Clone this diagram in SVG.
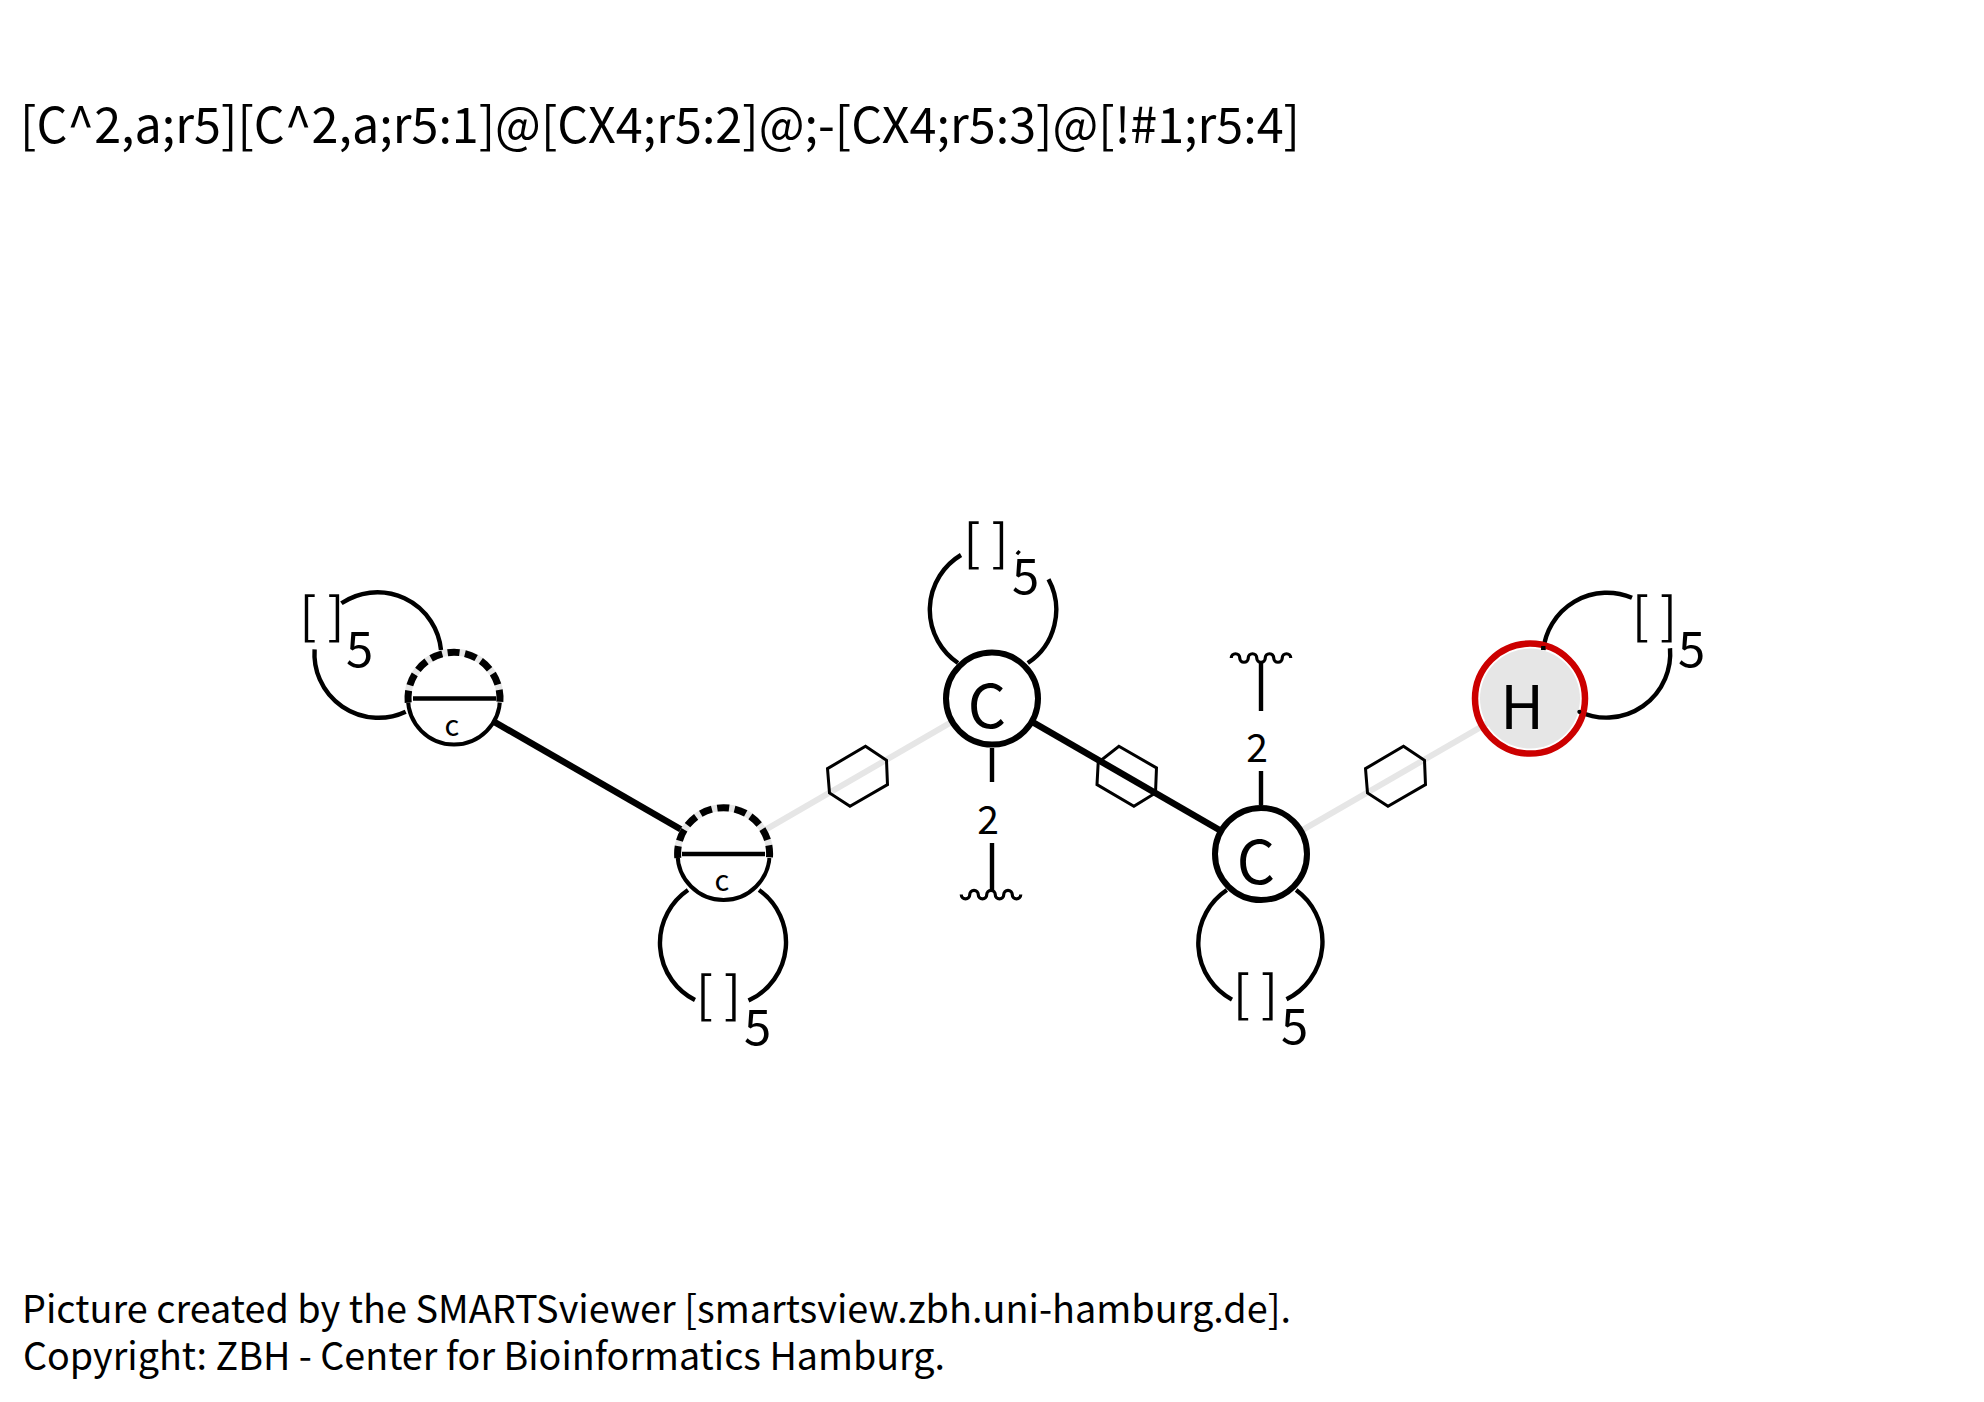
<svg xmlns="http://www.w3.org/2000/svg" width="1984" height="1402" viewBox="0 0 1984 1402">
<style>
text{font-family:"Noto Sans CJK SC","Noto Sans",sans-serif;fill:#000}
.title{font-size:49.5px}
.foot{font-size:38.5px}
.br{font-size:50px}
.sub{font-size:49px}
.atom{font-size:60px;text-anchor:middle}
.small{font-size:29px;text-anchor:middle}
.num{font-size:39px;text-anchor:middle}
.thick{fill:none;stroke:#000;stroke-width:6.5}
.ghost{fill:none;stroke:#e6e6e6;stroke-width:6}
.thin{fill:none;stroke:#000;stroke-width:4.4}
.wave{fill:none;stroke:#000;stroke-width:3.2}
.hex{fill:none;stroke:#000;stroke-width:3}
.ring{fill:#fff;stroke:#000;stroke-width:6}
.half{fill:#fff;stroke:#000;stroke-width:4}
.under{fill:none;stroke:#e6e6e6;stroke-width:7}
.dash{fill:none;stroke:#000;stroke-width:7;stroke-dasharray:12 5.5}
.mid{stroke:#000;stroke-width:4.5}
</style>
<defs>
<polygon id="hexA" class="hex" points="8,-30 29,-16 30,8.3 -7.5,30 -28,16.6 -30,-7.7"/>
<polygon id="hexB" class="hex" points="-7.6,-30 30,-8.4 29,16.6 7.4,30 -29.5,8.3 -28.3,-13.8"/>
<path id="wave" class="wave" d="M-29.75 0A4.25 4.25 0 0 0 -21.25 0A4.25 4.25 0 0 1 -12.75 0A4.25 4.25 0 0 0 -4.25 0A4.25 4.25 0 0 1 4.25 0A4.25 4.25 0 0 0 12.75 0A4.25 4.25 0 0 1 21.25 0A4.25 4.25 0 0 0 29.75 0"/>
<path id="half-arc" d="M-45.8 4A46 46 0 1 1 45.8 4"/>
</defs>
<rect width="1984" height="1402" fill="#fff"/>
<g id="connectors">
<line class="ghost" x1="723.6" y1="854" x2="992" y2="698.6"/>
<line class="ghost" x1="1261" y1="854" x2="1530" y2="698.6"/>
<line class="thick" x1="454" y1="698.6" x2="723.6" y2="854"/>
<line class="thick" x1="992" y1="698.6" x2="1261" y2="854"/>
<use href="#hexA" x="857.5" y="776.3"/>
<use href="#hexB" x="1126.5" y="776.3"/>
<use href="#hexA" x="1395.5" y="776.3"/>
<path class="thin" d="M441 650A64 64 0 0 0 341.4 603.3M314.6 649.3A64 64 0 0 0 405.7 711.7"/>
<path class="thin" d="M688 890A64 64 0 0 0 695 1000M759 890A64 64 0 0 1 748.5 1000.5"/>
<path class="thin" d="M958 663A64 64 0 0 1 961 555M1027.8 663A64 64 0 0 0 1048.5 579.3M1017 551.6L1019.5 553.6"/>
<path class="thin" d="M1226.8 890A64 64 0 0 0 1232 999.6M1296.1 890A64 64 0 0 1 1286.5 999.3"/>
<path class="thin" d="M1543.3 650A64 64 0 0 1 1632 597.8M1670 648.3A64 64 0 0 1 1579.3 711.7"/>
<path class="thin" d="M992 748V782M992 843V890.5M1261 771V805M1261 662.2V711"/>
<use href="#wave" transform="translate(991 894.6)"/>
<use href="#wave" transform="translate(1261 658) scale(1 -1)"/>
</g>
<g id="node1">
<circle class="half" cx="454" cy="698.6" r="46"/>
<use href="#half-arc" class="under" x="454" y="698.6"/>
<use href="#half-arc" class="dash" x="454" y="698.6"/>
<line class="mid" x1="413" y1="698.6" x2="496" y2="698.6"/>
<text class="small" x="452" y="736">c</text>
</g>
<g id="node2">
<circle class="half" cx="723.6" cy="854" r="46"/>
<use href="#half-arc" class="under" x="723.6" y="854"/>
<use href="#half-arc" class="dash" x="723.6" y="854"/>
<line class="mid" x1="682" y1="854" x2="765" y2="854"/>
<text class="small" x="722" y="891">c</text>
</g>
<g id="node3">
<circle class="ring" cx="992" cy="698.6" r="46"/>
<text class="atom" x="987" y="727.5">C</text>
</g>
<g id="node4">
<circle class="ring" cx="1261" cy="854" r="46"/>
<text class="atom" x="1256" y="883.5">C</text>
</g>
<g id="node5">
<circle cx="1530" cy="698.6" r="50" fill="#e6e6e6"/>
<circle cx="1530" cy="698.6" r="55" fill="none" stroke="#c00" stroke-width="6.5"/>
<path class="thin" d="M1543.3 650V646"/>
<circle cx="1579.3" cy="711.7" r="2"/>
<text class="atom" x="1522" y="729">H</text>
</g>
<g id="labels">
<text class="br" x="299.5" y="634">[ ]</text><text class="sub" x="346" y="667">5</text>
<text class="br" x="696" y="1013">[ ]</text><text class="sub" x="744" y="1045">5</text>
<text class="br" x="963.5" y="561">[ ]</text><text class="sub" x="1012" y="594">5</text>
<text class="br" x="1233" y="1012">[ ]</text><text class="sub" x="1281" y="1044">5</text>
<text class="br" x="1632" y="634">[ ]</text><text class="sub" x="1678" y="667">5</text>
<text class="num" x="988" y="834">2</text>
<text class="num" x="1257" y="762">2</text>
</g>
<g id="captions">
<text class="title" x="20" y="143" textLength="1280" lengthAdjust="spacingAndGlyphs">[C^2,a;r5][C^2,a;r5:1]@[CX4;r5:2]@;-[CX4;r5:3]@[!#1;r5:4]</text>
<text class="foot" x="22" y="1322.5" textLength="1269" lengthAdjust="spacingAndGlyphs">Picture created by the SMARTSviewer [smartsview.zbh.uni-hamburg.de].</text>
<text class="foot" x="23" y="1369.5" textLength="922" lengthAdjust="spacingAndGlyphs">Copyright: ZBH - Center for Bioinformatics Hamburg.</text>
</g>
</svg>
